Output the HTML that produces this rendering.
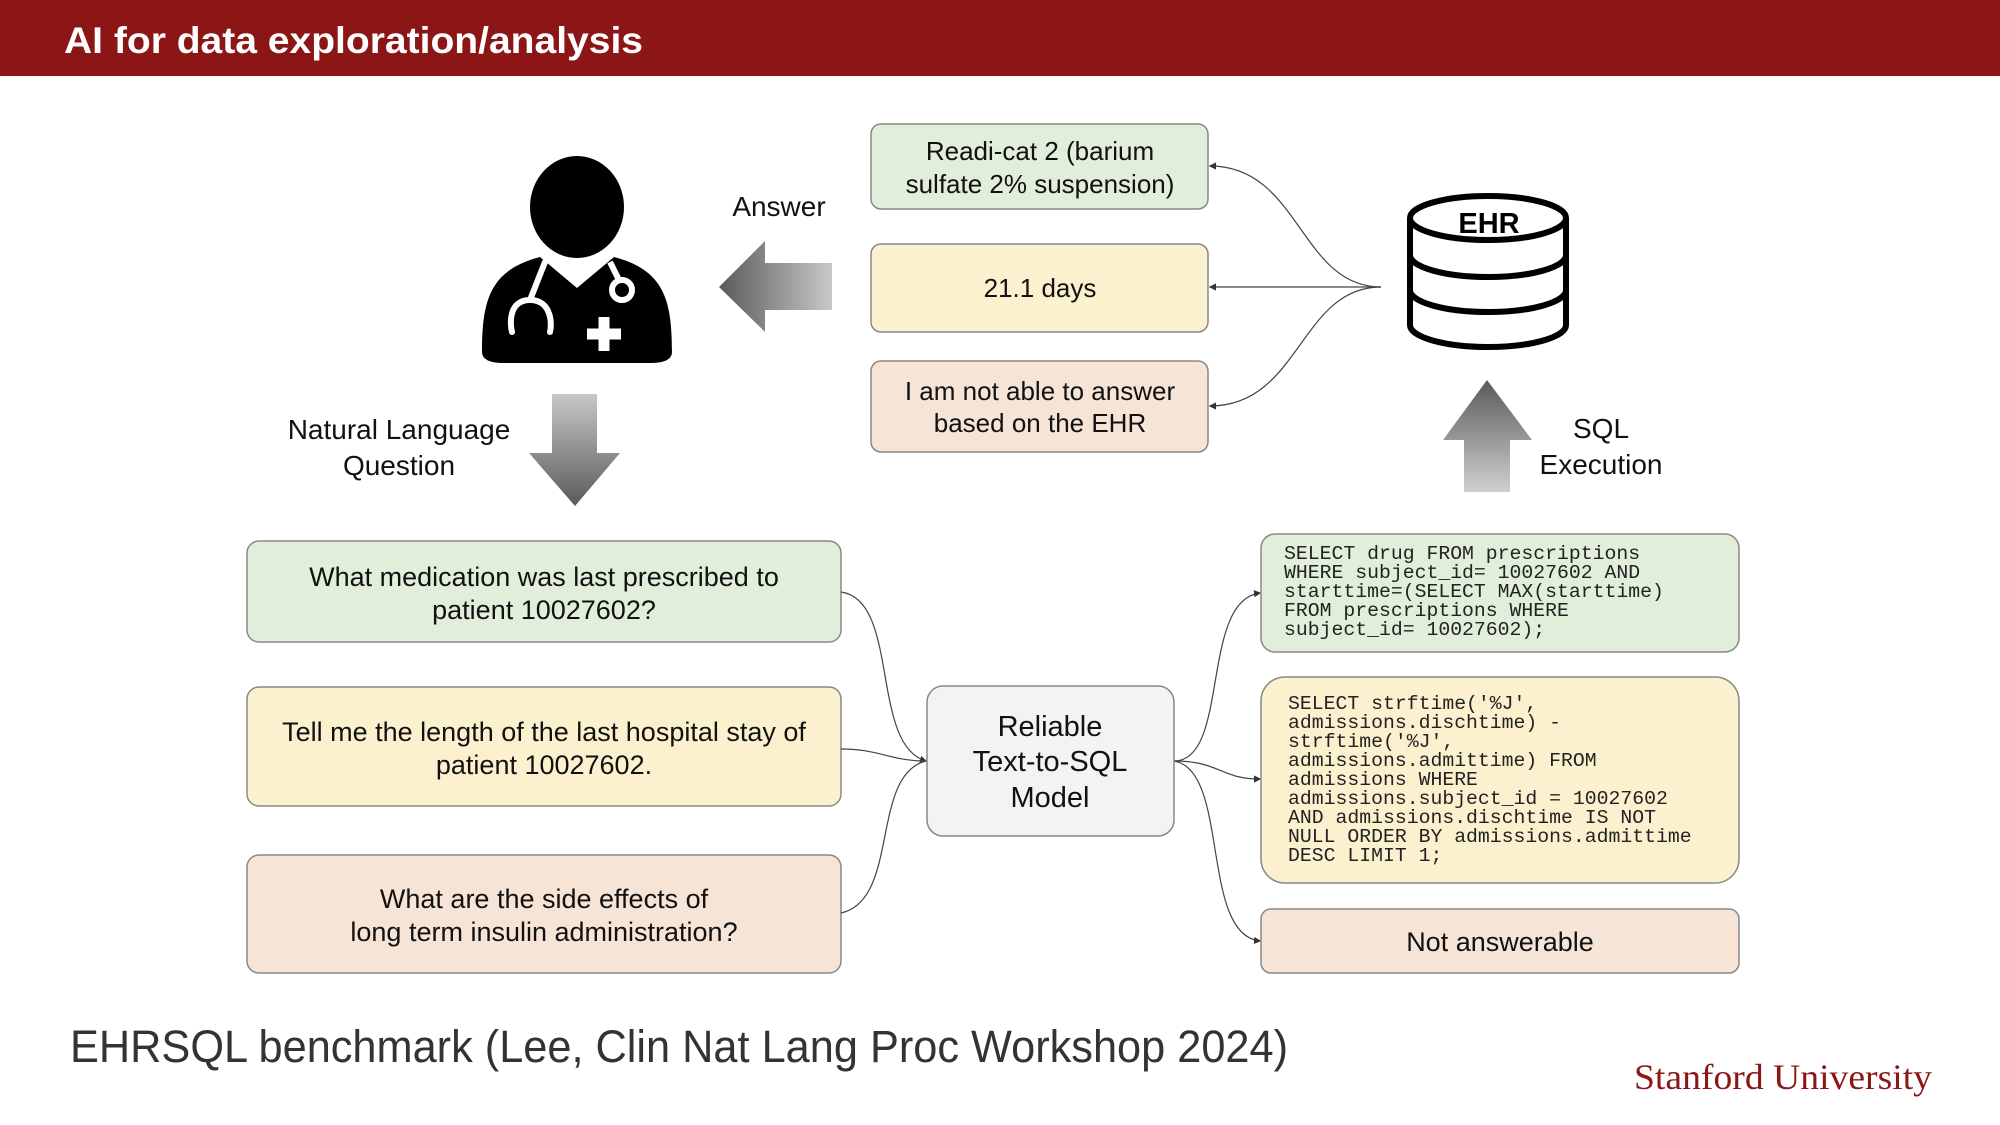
<!DOCTYPE html>
<html><head><meta charset="utf-8"><style>
html,body{margin:0;padding:0;background:#fff}
body{width:2000px;height:1125px;position:relative;overflow:hidden;font-family:"Liberation Sans",sans-serif}
</style></head><body>
<svg width="2000" height="1125" viewBox="0 0 2000 1125" xmlns="http://www.w3.org/2000/svg" style="position:absolute;left:0;top:0">
<defs>
<linearGradient id="gl" x1="0" y1="0" x2="1" y2="0"><stop offset="0" stop-color="#5a5a5a"/><stop offset="1" stop-color="#c8c8c8"/></linearGradient>
<linearGradient id="gd" x1="0" y1="0" x2="0" y2="1"><stop offset="0" stop-color="#c8c8c8"/><stop offset="1" stop-color="#5a5a5a"/></linearGradient>
<linearGradient id="gu" x1="0" y1="0" x2="0" y2="1"><stop offset="0" stop-color="#5a5a5a"/><stop offset="1" stop-color="#d0d0d0"/></linearGradient>
<marker id="ah" markerWidth="6" markerHeight="6" refX="5" refY="3" orient="auto"><path d="M0,0 L6,3 L0,6z" fill="#333"/></marker>
</defs>
<rect x="0" y="0" width="2000" height="76" fill="#8C1515"/>
<text x="64" y="53" font-size="37" font-weight="bold" fill="#fff" textLength="579" lengthAdjust="spacingAndGlyphs">AI for data exploration/analysis</text>

<!-- doctor -->
<ellipse cx="577" cy="207" rx="47" ry="51" fill="#000"/>
<path d="M482,352 C482,300 490,270 540,257 L577,288 L614,257 C664,270 672,300 672,352 Q672,363 650,363 L504,363 Q482,363 482,352z" fill="#000"/>
<path d="M545,262 L530,300 M530,300 C508,300 510,325 512,332 M530,300 C552,300 552,325 550,332" stroke="#fff" stroke-width="6" fill="none" stroke-linecap="round"/>
<path d="M610,262 L620,282" stroke="#fff" stroke-width="6" fill="none"/>
<circle cx="622" cy="290" r="10" fill="none" stroke="#fff" stroke-width="6"/>
<path d="M604,317 v34 M587,334 h34" stroke="#fff" stroke-width="11"/>

<text x="779" y="216" font-size="28" text-anchor="middle" fill="#111">Answer</text>
<path d="M719,287 L765,241 L765,263 L832,263 L832,310 L765,310 L765,332z" fill="url(#gl)"/>

<text x="399" y="439" font-size="28" text-anchor="middle" fill="#111">Natural Language</text>
<text x="399" y="475" font-size="28" text-anchor="middle" fill="#111">Question</text>
<path d="M552,394 L597,394 L597,453 L620,453 L575,506 L529,453 L552,453z" fill="url(#gd)"/>

<!-- answer boxes -->
<rect x="871" y="124" width="337" height="85" rx="10" fill="#e1eed9" stroke="#888" stroke-width="1.5"/>
<text x="1040" y="160" font-size="26" text-anchor="middle" fill="#111">Readi-cat 2 (barium</text>
<text x="1040" y="193" font-size="26" text-anchor="middle" fill="#111">sulfate 2% suspension)</text>
<rect x="871" y="244" width="337" height="88" rx="10" fill="#fcf1cf" stroke="#888" stroke-width="1.5"/>
<text x="1040" y="297" font-size="26" text-anchor="middle" fill="#111">21.1 days</text>
<rect x="871" y="361" width="337" height="91" rx="10" fill="#f6e4d6" stroke="#888" stroke-width="1.5"/>
<text x="1040" y="400" font-size="26" text-anchor="middle" fill="#111">I am not able to answer</text>
<text x="1040" y="432" font-size="26" text-anchor="middle" fill="#111">based on the EHR</text>

<g fill="none" stroke="#444" stroke-width="1.2" marker-end="url(#ah)">
<path d="M1381,287 C1300,287 1300,166 1210,166"/>
<path d="M1381,287 L1210,287"/>
<path d="M1381,287 C1300,287 1300,406 1210,406"/>
</g>

<!-- EHR -->
<g fill="#fff" stroke="#000" stroke-width="6">
<path d="M1410,218 L1410,325 A78,22 0 0 0 1566,325 L1566,218"/>
<path d="M1410,255 A78,22 0 0 0 1566,255 M1410,290 A78,22 0 0 0 1566,290" fill="none"/>
<ellipse cx="1488" cy="218" rx="78" ry="22"/>
</g>
<text x="1489" y="233" font-size="29" font-weight="bold" text-anchor="middle">EHR</text>

<path d="M1464,492 L1510,492 L1510,440 L1532,440 L1487,380 L1443,440 L1464,440z" fill="url(#gu)"/>
<text x="1601" y="438" font-size="28" text-anchor="middle" fill="#111">SQL</text>
<text x="1601" y="474" font-size="28" text-anchor="middle" fill="#111">Execution</text>

<!-- question boxes -->
<rect x="247" y="541" width="594" height="101" rx="12" fill="#e1eed9" stroke="#888" stroke-width="1.5"/>
<text x="544" y="586" font-size="27" text-anchor="middle" fill="#111">What medication was last prescribed to</text>
<text x="544" y="619" font-size="27" text-anchor="middle" fill="#111">patient 10027602?</text>
<rect x="247" y="687" width="594" height="119" rx="12" fill="#fcf1cf" stroke="#888" stroke-width="1.5"/>
<text x="544" y="741" font-size="27" text-anchor="middle" fill="#111">Tell me the length of the last hospital stay of</text>
<text x="544" y="774" font-size="27" text-anchor="middle" fill="#111">patient 10027602.</text>
<rect x="247" y="855" width="594" height="118" rx="12" fill="#f6e4d6" stroke="#888" stroke-width="1.5"/>
<text x="544" y="908" font-size="27" text-anchor="middle" fill="#111">What are the side effects of</text>
<text x="544" y="941" font-size="27" text-anchor="middle" fill="#111">long term insulin administration?</text>

<g fill="none" stroke="#444" stroke-width="1.2">
<path d="M841,592 C900,600 870,745 926,761" marker-end="url(#ah)"/>
<path d="M841,749 C880,749 890,761 926,761"/>
<path d="M841,913 C900,900 870,775 926,761"/>
<path d="M1174,761 C1230,761 1200,600 1260,593" marker-end="url(#ah)"/>
<path d="M1174,761 C1220,761 1220,779 1260,779" marker-end="url(#ah)"/>
<path d="M1174,761 C1230,770 1200,935 1260,941" marker-end="url(#ah)"/>
</g>

<rect x="927" y="686" width="247" height="150" rx="16" fill="#f3f3f3" stroke="#888" stroke-width="1.5"/>
<text x="1050" y="736" font-size="29" text-anchor="middle" fill="#111">Reliable</text>
<text x="1050" y="771" font-size="29" text-anchor="middle" fill="#111">Text-to-SQL</text>
<text x="1050" y="807" font-size="29" text-anchor="middle" fill="#111">Model</text>

<!-- SQL boxes -->
<rect x="1261" y="534" width="478" height="118" rx="14" fill="#e1eed9" stroke="#888" stroke-width="1.5"/>
<g font-family="Liberation Mono, monospace" font-size="19.8" fill="#222">
<text x="1284" y="559">SELECT drug FROM prescriptions</text>
<text x="1284" y="578">WHERE subject_id= 10027602 AND</text>
<text x="1284" y="597">starttime=(SELECT MAX(starttime)</text>
<text x="1284" y="616">FROM prescriptions WHERE</text>
<text x="1284" y="635">subject_id= 10027602);</text>
</g>
<rect x="1261" y="677" width="478" height="206" rx="24" fill="#fcf1cf" stroke="#888" stroke-width="1.5"/>
<g font-family="Liberation Mono, monospace" font-size="19.8" fill="#222">
<text x="1288" y="709">SELECT strftime('%J',</text>
<text x="1288" y="728">admissions.dischtime) -</text>
<text x="1288" y="747">strftime('%J',</text>
<text x="1288" y="766">admissions.admittime) FROM</text>
<text x="1288" y="785">admissions WHERE</text>
<text x="1288" y="804">admissions.subject_id = 10027602</text>
<text x="1288" y="823">AND admissions.dischtime IS NOT</text>
<text x="1288" y="842">NULL ORDER BY admissions.admittime</text>
<text x="1288" y="861">DESC LIMIT 1;</text>
</g>
<rect x="1261" y="909" width="478" height="64" rx="10" fill="#f6e4d6" stroke="#888" stroke-width="1.5"/>
<text x="1500" y="951" font-size="27" text-anchor="middle" fill="#111">Not answerable</text>

<text x="70" y="1062" font-size="45" fill="#333" textLength="1218" lengthAdjust="spacingAndGlyphs">EHRSQL benchmark (Lee, Clin Nat Lang Proc Workshop 2024)</text>
<text x="1634" y="1089" font-family="Liberation Serif, serif" font-size="36" fill="#8C1515" textLength="298" lengthAdjust="spacingAndGlyphs">Stanford University</text>
</svg>
</body></html>
